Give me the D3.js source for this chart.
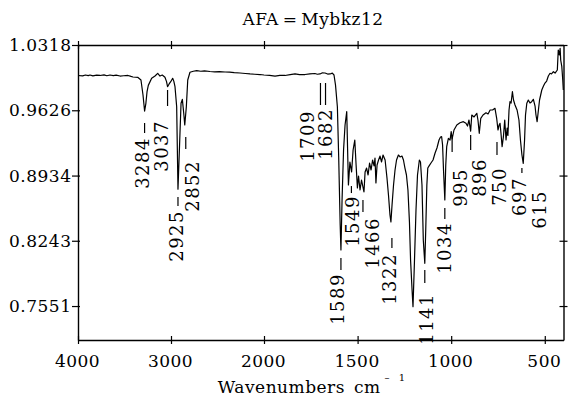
<!DOCTYPE html>
<html>
<head>
<meta charset="utf-8">
<script src="https://cdn.jsdelivr.net/npm/d3@7"></script>
<style>
  html, body { margin: 0; padding: 0; background: #fff; }
  svg text { font-family: "DejaVu Serif", "Liberation Serif", serif; font-size: 17px; letter-spacing: 0.5px; fill: #000; }
</style>
</head>
<body>
<svg id="chart" width="574" height="397" style="font-family:'DejaVu Serif',serif"></svg>
<script>
// IR spectrum of AFA = Mybkz12 (wavenumber in cm^-1, transmittance)
const wavenumber = [
  4000, 3950, 3920, 3890, 3871, 3840, 3800, 3763, 3720, 3690, 3656, 3620, 3590, 3548, 3510, 3462, 3430, 3409,
  3380, 3355, 3323, 3301, 3284, 3270, 3258, 3244, 3208, 3172, 3143, 3118, 3094, 3065, 3048, 3037, 3020, 3003,
  2982, 2970, 2957, 2939, 2925, 2906, 2892, 2878, 2863, 2852, 2835, 2820, 2796, 2760, 2724, 2680, 2640, 2581,
  2530, 2480, 2419, 2370, 2320, 2258, 2200, 2150, 2100, 2043,
  2000, 1970, 1941, 1915, 1888, 1860, 1834, 1810, 1781, 1755, 1728, 1715, 1701, 1690, 1674, 1660, 1647, 1635,
  1626, 1618, 1608, 1601, 1593, 1589, 1583, 1575, 1567, 1558, 1549, 1541, 1532, 1524, 1515, 1508, 1501, 1495,
  1487, 1479, 1466, 1460, 1452, 1444, 1436, 1428, 1420, 1412, 1407, 1402, 1396, 1388, 1380, 1372, 1364, 1353,
  1343, 1335, 1327, 1322, 1316, 1308, 1300, 1292, 1282, 1273, 1263, 1255, 1247, 1239, 1231, 1223, 1217, 1209,
  1204, 1196, 1188, 1180, 1170, 1164, 1156, 1149, 1141, 1136, 1130, 1125, 1118, 1108, 1097, 1086, 1076, 1065,
  1057, 1051, 1046, 1041, 1034, 1029, 1024, 1015, 1006, 1000, 995, 985, 970, 953, 935, 921, 913, 905,
  896, 890, 878, 863, 857, 850, 842, 830, 814, 803, 792, 779, 766, 757, 750, 744, 739, 734,
  728, 721, 714, 707, 701, 697, 691, 686, 680, 673, 667, 659, 648, 638, 630, 622, 615, 608,
  603, 596, 588, 579, 570, 561, 552, 547, 541, 534, 528, 516, 507, 499, 490, 481, 472, 464,
  454, 445, 433, 428, 422, 418, 415, 409, 404, 401
];
const transmittance = [
  0.9995, 0.9990, 1.0000, 0.9993, 1.0000, 0.9990, 0.9998, 0.9995, 1.0002, 0.9992, 1.0000, 0.9994, 0.9998, 0.9989, 0.9992, 0.9995, 0.9985, 0.9979,
  0.9976, 0.9974, 0.9947, 0.9788, 0.9618, 0.9700, 0.9820, 0.9890, 0.9965, 0.9989, 1.0018, 0.9989, 1.0000, 0.9976, 0.9930, 0.9876, 0.9905, 0.9929,
  0.9965, 0.9935, 0.9876, 0.9664, 0.8790, 0.9311, 0.9700, 0.9742, 0.9594, 0.9470, 0.9664, 0.9947, 1.0029, 1.0040, 1.0046, 1.0040, 1.0044, 1.0037,
  1.0033, 1.0036, 1.0032, 1.0030, 1.0025, 1.0021, 1.0016, 1.0011, 1.0008, 1.0005,
  1.0000, 0.9995, 0.9989, 0.9996, 0.9995, 1.0003, 1.0011, 1.0004, 1.0005, 1.0012, 1.0016, 1.0008, 1.0011, 1.0022, 1.0021, 1.0010, 1.0011, 1.0020,
  1.0000, 0.9894, 0.9664, 0.9134, 0.8410, 0.8145, 0.8675, 0.9205, 0.9470, 0.9611, 0.8834, 0.9078, 0.8972, 0.9205, 0.9311, 0.9046, 0.8802, 0.8929,
  0.8781, 0.8887, 0.8760, 0.8972, 0.9014, 0.8940, 0.9067, 0.8993, 0.9099, 0.9036, 0.9120, 0.8855, 0.9046, 0.9099, 0.9141, 0.9078, 0.9152, 0.9099,
  0.8908, 0.8728, 0.8516, 0.8442, 0.8622, 0.8834, 0.8993, 0.9099, 0.9152, 0.9131, 0.9141, 0.9099, 0.9014, 0.8940, 0.8781, 0.8442, 0.8039, 0.7721,
  0.7544, 0.8039, 0.8569, 0.8940, 0.9099, 0.9078, 0.8834, 0.8251, 0.8004, 0.8357, 0.8834, 0.9014, 0.9036, 0.9067, 0.9099, 0.9173, 0.9226, 0.9311,
  0.9343, 0.9346, 0.9258, 0.8993, 0.8675, 0.9046, 0.9240, 0.9329, 0.9311, 0.9399, 0.9322, 0.9417, 0.9470, 0.9494, 0.9505, 0.9488, 0.9459, 0.9523,
  0.9406, 0.9576, 0.9555, 0.9594, 0.9523, 0.9382, 0.9541, 0.9576, 0.9600, 0.9587, 0.9629, 0.9629, 0.9647, 0.9541, 0.9417, 0.9470, 0.9488, 0.9382,
  0.9240, 0.9346, 0.9523, 0.9311, 0.9438, 0.9360, 0.9629, 0.9717, 0.9703, 0.9823, 0.9735, 0.9682, 0.9629, 0.9523, 0.9311, 0.9152, 0.9064, 0.9311,
  0.9576, 0.9700, 0.9735, 0.9703, 0.9717, 0.9742, 0.9671, 0.9576, 0.9505, 0.9629, 0.9735, 0.9841, 0.9883, 0.9915, 0.9936, 0.9989, 1.0018, 1.0011,
  1.0035, 1.0021, 1.0053, 1.0265, 1.0212, 1.0283, 1.0159, 1.0088, 0.9947, 0.9841
];

const xTickValues = [4000, 3000, 2000, 1500, 1000, 500];
const yTickValues = [1.0318, 0.9626, 0.8934, 0.8243, 0.7551];

// annotated peaks
const peakWavenumber = [3284, 3037, 2925, 2852, 1709, 1682, 1589, 1549, 1466, 1322, 1141, 1034, 995, 896, 750, 697, 615];
const peakText = peakWavenumber.map(String);

// placement of each peak label: transmittance level of the marker top,
// marker length, marker / text horizontal nudges and gap to the text (px)
const labelLayout = [
  { level: 0.9491, len: 10, tickDx: 0,  textDx: -2,  gap: 4 },
  { level: 0.9841, len: 16, tickDx: 0,  textDx: -6,  gap: 14 },
  { level: 0.8707, len: 9,  tickDx: 0,  textDx: -1,  gap: 4 },
  { level: 0.9343, len: 12, tickDx: 1,  textDx: 8,   gap: 11 },
  { level: 0.9915, len: 22, tickDx: 2,  textDx: -11, gap: 5 },
  { level: 0.9915, len: 22, tickDx: 2,  textDx: 2,   gap: 3 },
  { level: 0.8060, len: 12, tickDx: 0,  textDx: -3,  gap: 3 },
  { level: 0.8823, len: 7,  tickDx: 3,  textDx: 4,   gap: 2 },
  { level: 0.8675, len: 12, tickDx: -1, textDx: 9,   gap: 5 },
  { level: 0.8272, len: 10, tickDx: 1,  textDx: -1,  gap: 5 },
  { level: 0.7933, len: 13, tickDx: 0,  textDx: 2,   gap: 10 },
  { level: 0.8590, len: 11, tickDx: 0,  textDx: 0,   gap: 3 },
  { level: 0.9343, len: 15, tickDx: 0,  textDx: 9,   gap: 16 },
  { level: 0.9364, len: 15, tickDx: 0,  textDx: 9,   gap: 8 },
  { level: 0.9290, len: 13, tickDx: -1, textDx: 2,   gap: 12 },
  { level: 0.9014, len: 5,  tickDx: 14, textDx: 12,  gap: 4 },
  { level: 0.8983, len: 0,  tickDx: 0,  textDx: 16,  gap: 19 }
];

const svg = d3.select("#chart");
const plotLeft = 78, plotRight = 563.5, plotTop = 45, plotBottom = 340;

// wavenumber axis is compressed above 2000 cm^-1
const x = d3.scaleLinear().domain([4000, 2000, 400]).range([plotLeft, 264, plotRight]);
const y = d3.scaleLinear().domain([0.7191, 1.0318]).range([plotBottom, plotTop]);

// title
svg.append("text")
  .attr("x", 313).attr("y", 25)
  .attr("text-anchor", "middle")
  .text("AFA\u2009=\u2009Mybkz12");

// axes, with ticks crossing the frame
const tk = 4;
const gB = svg.append("g").attr("transform", `translate(0,${plotBottom})`)
  .call(d3.axisBottom(x).tickValues(xTickValues).tickFormat(d3.format("d"))
    .tickSizeInner(tk).tickSizeOuter(0).tickPadding(11));
gB.selectAll(".tick line").attr("y1", -tk);

const gT = svg.append("g").attr("transform", `translate(0,${plotTop})`)
  .call(d3.axisTop(x).tickValues(xTickValues).tickFormat("")
    .tickSizeInner(tk).tickSizeOuter(0));
gT.selectAll(".tick line").attr("y1", tk);

const gL = svg.append("g").attr("transform", `translate(${plotLeft},0)`)
  .call(d3.axisLeft(y).tickValues(yTickValues).tickFormat(d3.format(".4f"))
    .tickSizeInner(6).tickSizeOuter(0).tickPadding(0.5));
gL.selectAll(".tick line").attr("x1", 2);

const gR = svg.append("g").attr("transform", `translate(${plotRight},0)`)
  .call(d3.axisRight(y).tickValues(yTickValues).tickFormat("")
    .tickSizeInner(tk).tickSizeOuter(0));
gR.selectAll(".tick line").attr("x1", -tk);

[gB, gT, gL, gR].forEach(g => {
  g.attr("font-family", null).attr("font-size", null);
  g.selectAll("path.domain").attr("stroke", "#000").attr("stroke-width", 1.4);
  g.selectAll(".tick line").attr("stroke", "#000").attr("stroke-width", 1.2);
  g.selectAll("text").attr("fill", "#000");
});
gB.selectAll(".tick text").attr("dx", "-1");

// axis title
const xt = svg.append("text")
  .attr("x", 313).attr("y", 393)
  .attr("text-anchor", "middle");
xt.append("tspan").text("Wavenumbers\u2002cm");
xt.append("tspan").attr("dy", -12).attr("dx", 4)
  .style("font-size", "10px").style("letter-spacing", "3px").text("\u2013 1");

// spectrum trace
const pts = wavenumber.map((w, i) => [w, transmittance[i]]);
svg.append("path")
  .datum(pts)
  .attr("fill", "none")
  .attr("stroke", "#000")
  .attr("stroke-width", 1.2)
  .attr("stroke-linejoin", "round")
  .attr("d", d3.line().x(d => x(d[0])).y(d => y(d[1])));

// peak annotations
const gP = svg.append("g");
peakWavenumber.forEach((w, i) => {
  const L = labelLayout[i];
  const px = x(w);
  const y0 = y(L.level);
  if (L.len > 0) {
    gP.append("line")
      .attr("x1", px + L.tickDx).attr("x2", px + L.tickDx)
      .attr("y1", y0).attr("y2", y0 + L.len)
      .attr("stroke", "#000").attr("stroke-width", 1.2);
  }
  gP.append("text")
    .attr("transform", `translate(${px + L.textDx},${y0 + L.len + L.gap}) rotate(-90)`)
    .attr("text-anchor", "end")
    .attr("dy", "0.35em")
    .style("font-size", "18px")
    .style("letter-spacing", "1.5px")
    .text(peakText[i]);
});
</script>
</body>
</html>
